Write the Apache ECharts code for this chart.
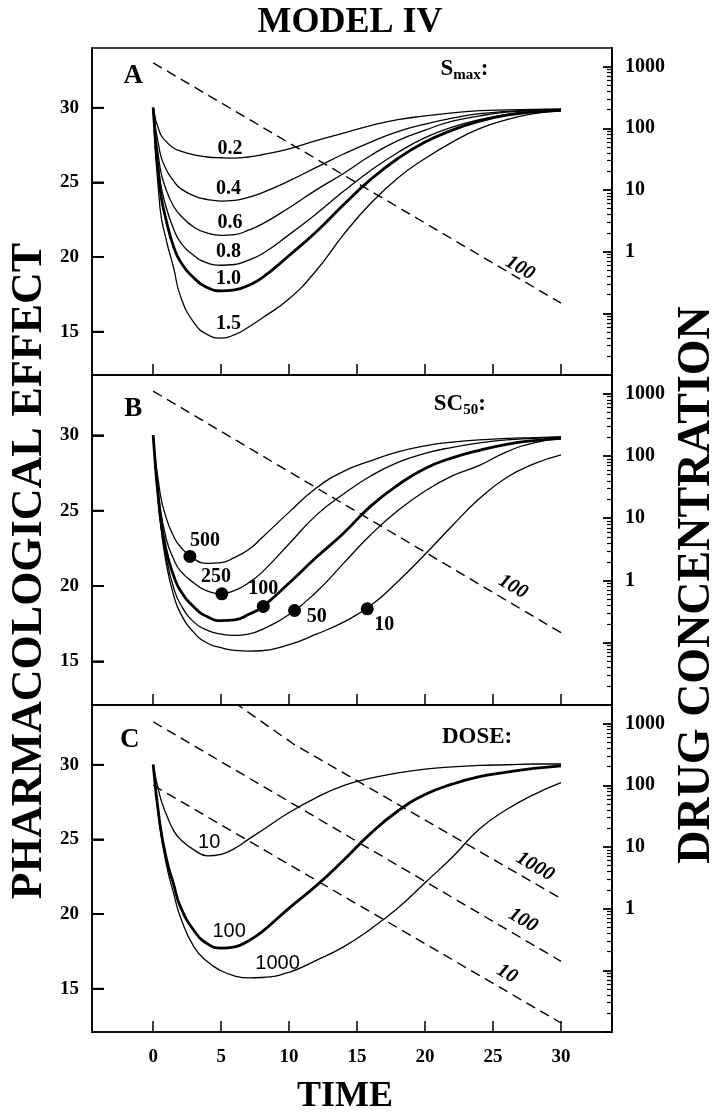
<!DOCTYPE html>
<html><head><meta charset="utf-8">
<script src="https://cdn.jsdelivr.net/npm/echarts@6/dist/echarts.min.js"></script>
<style>html,body{margin:0;padding:0;background:#fff}#c{width:725px;height:1114px}</style>
</head><body><div id="c"></div>
<script>
// ---------- DATA ----------
const T = [0,0.5,1,1.5,2,3,4,5,6,7,8,10,12,14,16,18,20,22,24,26,28,30];
const xTicks = [0,5,10,15,20,25,30];
const yTicks = [15,20,25,30];
const concTicksMajor = [0.01,0.1,1,10,100,1000];
const concLabels = [1,10,100,1000];
const concTicksMinor = [0.02,0.03,0.04,0.05,0.06,0.07,0.08,0.09,0.2,0.3,0.4,0.5,0.6,0.7,0.8,0.9,2,3,4,5,6,7,8,9,20,30,40,50,60,70,80,90,200,300,400,500,600,700,800,900];

// Panel A: Smax
const smaxNames = ['0.2','0.4','0.6','0.8','1.0','1.5'];
const smax02 = [30,28.3,27.7,27.3,27.1,26.85,26.7,26.65,26.63,26.7,26.85,27.25,27.8,28.3,28.8,29.2,29.45,29.65,29.8,29.85,29.88,29.9];
const smax04 = [30,27.0,25.8,25.1,24.6,24.1,23.85,23.75,23.8,24.0,24.3,25.1,26.0,26.9,27.7,28.4,28.9,29.3,29.6,29.75,29.85,29.9];
const smax06 = [30,26.0,24.4,23.4,22.8,22.0,21.6,21.45,21.5,21.8,22.2,23.3,24.5,25.6,26.8,27.8,28.5,29.1,29.45,29.7,29.8,29.87];
const smax08 = [30,25.2,23.2,21.9,21.0,20.1,19.6,19.45,19.5,19.8,20.2,21.5,22.9,24.4,25.8,27.0,28.0,28.7,29.2,29.55,29.75,29.85];
const smax10 = [30,24.6,22.3,20.7,19.7,18.6,17.95,17.73,17.8,18.1,18.6,20.1,21.7,23.5,25.2,26.6,27.7,28.5,29.1,29.5,29.7,29.83];
const smax15 = [30,23.3,21.0,19.3,17.4,15.6,14.8,14.57,14.8,15.3,15.9,17.2,19.1,21.5,23.6,25.3,26.6,27.7,28.6,29.2,29.6,29.8];
const smaxLabelX = [5.66,5.54,5.66,5.54,5.54,5.54];
const smaxLabelY = [27.23,24.56,22.27,20.33,18.56,15.56];

// Panel B: SC50
const sc50Names = ['500','250','100','50','10'];
const sc500 = [30,26.2,24.4,23.3,22.6,21.8,21.5,21.55,21.9,22.4,23.2,24.9,26.5,27.6,28.3,28.9,29.3,29.55,29.7,29.8,29.85,29.9];
const sc250 = [30,25.3,23.0,21.8,21.0,20.2,19.65,19.5,19.7,20.2,20.9,22.8,24.7,26.1,27.3,28.2,28.8,29.2,29.5,29.7,29.8,29.9];
const sc100 = [30,24.8,22.2,20.7,19.7,18.6,17.95,17.7,17.75,18.1,18.6,20.2,21.9,23.5,25.3,26.7,27.8,28.5,29.0,29.4,29.65,29.8];
const sc50 = [30,24.6,21.7,19.9,18.8,17.6,17.05,16.8,16.72,16.8,17.1,18.1,19.6,21.5,23.4,25.0,26.3,27.3,28.0,28.9,29.5,29.8];
const sc10 = [30,24.4,21.3,19.4,18.2,16.9,16.2,15.9,15.72,15.67,15.7,16.1,16.8,17.6,18.7,20.3,22.1,24.0,25.8,27.2,28.1,28.7];
const sc50DotX = [2.7,5.05,8.1,10.4,15.75];
const sc50DotY = [21.96,19.48,18.64,18.37,18.48];
const sc50LabelX = [3.82,4.63,8.09,12.04,16.99];
const sc50LabelY = [23.02,20.63,19.83,17.97,17.44];

// Panel C: DOSE
const doseNames = ['10','100','1000'];
const dose10 = [30,27.9,26.6,25.6,25.0,24.3,23.9,24.0,24.4,25.0,25.6,26.8,27.8,28.6,29.1,29.45,29.7,29.85,29.95,30.0,30.05,30.05];
const dose100 = [30,26.0,23.6,22.0,20.5,18.9,18.0,17.72,17.8,18.2,18.8,20.4,21.9,23.6,25.4,26.9,28.0,28.7,29.2,29.5,29.75,29.93];
const dose1000 = [30,25.8,23.2,21.4,19.8,17.8,16.8,16.2,15.85,15.72,15.75,16.1,16.9,17.8,19.0,20.4,22.1,23.8,25.7,27.0,28.0,28.8];
const doseLabelX = [4.12,5.59,9.15];
const doseLabelY = [24.8,18.8,16.67];

// Drug concentration (dashed, right log axis)
const concA_t = [0,30], concA = [1150,0.146];
const concB_t = [0,30], concB = [1100,0.145];
const concC10_t = [0,30], concC10 = [100,0.014];
const concC100_t = [0,30], concC100 = [1070,0.14];
const concC1000_t = [5,10.3,30], concC1000 = [3100,470,1.45];
const concLabelA = {t:26.99, c:0.544, text:'100'};
const concLabelB = {t:26.47, c:0.79, text:'100'};
const concLabelC = [{t:28.09,c:4.8,text:'1000'},{t:27.2,c:0.65,text:'100'},{t:26.03,c:0.088,text:'10'}];

// Panel letters & headings
const panelLetters = ['A','B','C'];
const panelLetterPos = [[-1.47,32.11],[-1.47,31.73],[-1.73,31.67]];
const headingPos = [[21.1,32.56],[20.6,32.06],[21.2,31.83]];

// ---------- BUILD ----------
const X_MIN = -4.5, X_MAX = 33.75;
const SERIF = '"Liberation Serif", "Times New Roman", serif';
const SANS = '"Liberation Sans", Arial, sans-serif';
const zip = (xs, ys) => xs.map((x, i) => [x, ys[i]]);
const LINE = {show: true, onZero: false, lineStyle: {color: '#000', width: 1.6}};

const grids = [
  {left: 92, top: 48, width: 520, height: 327},
  {left: 92, top: 375, width: 520, height: 330},
  {left: 92, top: 705, width: 520, height: 327}
].map(g => Object.assign(g, {show: true, borderColor: '#000', borderWidth: 1.6, backgroundColor: 'transparent'}));

const xAxes = [0,1,2].map(i => ({
  type: 'value', gridIndex: i, min: X_MIN, max: X_MAX,
  axisLine: LINE, splitLine: {show: false},
  axisTick: {show: true, inside: true, length: 11, customValues: xTicks, lineStyle: {color: '#000', width: 1.5}},
  axisLabel: {show: i === 2, customValues: xTicks, margin: 16, color: '#000', fontFamily: SERIF, fontWeight: 'bold', fontSize: 19}
}));

const yAxes = [];
[0,1,2].forEach(i => {
  yAxes.push({
    type: 'value', gridIndex: i, position: 'left', min: 12.1, max: 34,
    axisLine: LINE, splitLine: {show: false},
    axisTick: {show: true, inside: true, length: 12, customValues: yTicks, lineStyle: {color: '#000', width: 1.8}},
    axisLabel: {customValues: yTicks, margin: 13, color: '#000', fontFamily: SERIF, fontWeight: 'bold', fontSize: 19}
  });
  yAxes.push({
    type: 'log', logBase: 10, gridIndex: i, position: 'right', min: 0.01, max: 2000,
    axisLine: LINE, splitLine: {show: false}, minorTick: {show: false},
    axisTick: {show: true, inside: true, length: 9, customValues: concTicksMajor, lineStyle: {color: '#000', width: 1.8}},
    axisLabel: {customValues: concLabels, margin: 13, color: '#000', fontFamily: SERIF, fontWeight: 'bold', fontSize: 20, formatter: v => String(Math.round(v))}
  });
  yAxes.push({
    type: 'log', logBase: 10, gridIndex: i, position: 'right', min: 0.01, max: 2000,
    axisLine: LINE, splitLine: {show: false}, minorTick: {show: false},
    axisTick: {show: true, inside: true, length: 5, customValues: concTicksMinor, lineStyle: {color: '#000', width: 1.2}},
    axisLabel: {show: false}
  });
});

const series = [];
function curve(panel, ys, bold) {
  series.push({
    type: 'line', xAxisIndex: panel, yAxisIndex: panel * 3, data: zip(T, ys),
    showSymbol: false, symbol: 'none', smooth: 0.5, silent: true,
    lineStyle: {color: '#000', width: bold ? 2.8 : 1.3}
  });
}
function dashed(panel, ts, cs) {
  series.push({
    type: 'line', xAxisIndex: panel, yAxisIndex: panel * 3 + 1, data: zip(ts, cs),
    showSymbol: false, symbol: 'none', silent: true,
    lineStyle: {color: '#000', width: 1.4, type: [10, 6]}
  });
}
function labels(panel, axisOff, items, font) {
  series.push({
    type: 'scatter', xAxisIndex: panel, yAxisIndex: panel * 3 + axisOff, silent: true,
    symbolSize: 1, itemStyle: {color: 'rgba(0,0,0,0)', opacity: 1},
    data: items.map(it => ({value: [it.x, it.y], name: it.text})),
    label: Object.assign({show: true, position: 'inside', formatter: '{b}', color: '#000'}, font)
  });
}

// left-edge tick marks (overlay at the axis scale's tick values, on the left edge)
[0,1,2].forEach(p => {
  series.push({
    type: 'scatter', xAxisIndex: p, yAxisIndex: p * 3, silent: true, clip: false, z: 5,
    symbol: 'rect', symbolSize: [12, 1.8], symbolOffset: [6, 0],
    itemStyle: {color: '#000', opacity: 1},
    data: yTicks.map(v => [X_MIN, v])
  });
});

// Panel A
[smax02, smax04, smax06, smax08, smax10, smax15].forEach((d, i) => curve(0, d, smaxNames[i] === '1.0'));
dashed(0, concA_t, concA);
labels(0, 0, smaxNames.map((n, i) => ({x: smaxLabelX[i], y: smaxLabelY[i], text: n})),
  {fontFamily: SERIF, fontWeight: 'bold', fontSize: 20});

// Panel B
[sc500, sc250, sc100, sc50, sc10].forEach((d, i) => curve(1, d, sc50Names[i] === '100'));
dashed(1, concB_t, concB);
series.push({
  type: 'scatter', xAxisIndex: 1, yAxisIndex: 3, silent: true, symbolSize: 13,
  itemStyle: {color: '#000', opacity: 1}, data: zip(sc50DotX, sc50DotY)
});
labels(1, 0, sc50Names.map((n, i) => ({x: sc50LabelX[i], y: sc50LabelY[i], text: n})),
  {fontFamily: SERIF, fontWeight: 'bold', fontSize: 20});

// Panel C
[dose10, dose100, dose1000].forEach((d, i) => curve(2, d, doseNames[i] === '100'));
dashed(2, concC10_t, concC10);
dashed(2, concC100_t, concC100);
dashed(2, concC1000_t, concC1000);
labels(2, 0, doseNames.map((n, i) => ({x: doseLabelX[i], y: doseLabelY[i], text: n})),
  {fontFamily: SANS, fontWeight: 'normal', fontSize: 20});

// dashed-line labels
const italic = {fontFamily: SERIF, fontWeight: 'bold', fontStyle: 'italic', fontSize: 20, rotate: -30};
labels(0, 1, [{x: concLabelA.t, y: concLabelA.c, text: concLabelA.text}], italic);
labels(1, 1, [{x: concLabelB.t, y: concLabelB.c, text: concLabelB.text}], italic);
labels(2, 1, concLabelC.map(l => ({x: l.t, y: l.c, text: l.text})), italic);

// panel letters and headings
[0,1,2].forEach(p => {
  labels(p, 0, [{x: panelLetterPos[p][0], y: panelLetterPos[p][1], text: panelLetters[p]}],
    {fontFamily: SERIF, fontWeight: 'bold', fontSize: 27});
});
const headingRich = {
  h: {fontFamily: SERIF, fontWeight: 'bold', fontSize: 23, color: '#000'},
  sub: {fontFamily: SERIF, fontWeight: 'bold', fontSize: 15, color: '#000', verticalAlign: 'bottom', padding: [12, 0, 0, 0]}
};
const headings = ['{h|S}{sub|max}{h|:}', '{h|SC}{sub|50}{h|:}', '{h|DOSE:}'];
[0,1,2].forEach(p => {
  series.push({
    type: 'scatter', xAxisIndex: p, yAxisIndex: p * 3, silent: true, symbolSize: 1,
    itemStyle: {color: 'rgba(0,0,0,0)', opacity: 1},
    data: [{value: headingPos[p], name: headings[p]}],
    label: {show: true, position: 'right', distance: 0, formatter: '{b}', rich: headingRich}
  });
});

const chart = echarts.init(document.getElementById('c'), null, {renderer: 'canvas'});
chart.setOption({
  animation: false,
  backgroundColor: '#fff',
  grid: grids,
  xAxis: xAxes,
  yAxis: yAxes,
  series: series,
  graphic: [
    {type: 'text', x: 350, y: 23, style: {text: 'MODEL IV', fill: '#000', font: 'bold 36px ' + SERIF, textAlign: 'center', textVerticalAlign: 'middle'}},
    {type: 'text', x: 345, y: 1097, style: {text: 'TIME', fill: '#000', font: 'bold 36px ' + SERIF, textAlign: 'center', textVerticalAlign: 'middle'}},
    {type: 'text', x: 30, y: 571, rotation: Math.PI / 2, style: {text: 'PHARMACOLOGICAL EFFECT', fill: '#000', font: 'bold 44px ' + SERIF, textAlign: 'center', textVerticalAlign: 'middle'}},
    {type: 'text', x: 697, y: 585, rotation: Math.PI / 2, style: {text: 'DRUG CONCENTRATION', fill: '#000', font: 'bold 46px ' + SERIF, textAlign: 'center', textVerticalAlign: 'middle'}}
  ]
});
</script></body></html>
